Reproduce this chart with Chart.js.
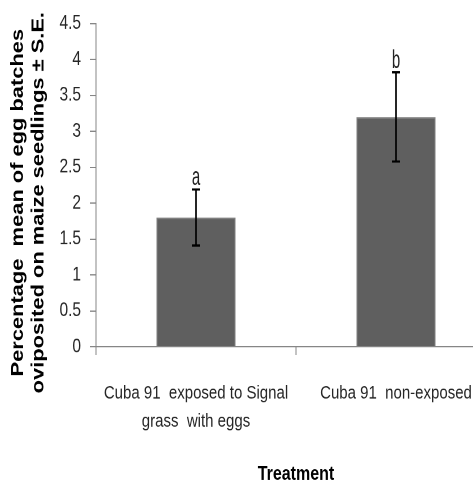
<!DOCTYPE html>
<html>
<head>
<meta charset="utf-8">
<script src="https://cdn.jsdelivr.net/npm/chart.js@4.4.1/dist/chart.umd.min.js"></script>
<style>
html, body { margin: 0; padding: 0; background: #fff; overflow: hidden; }
#frame { position: relative; width: 473px; height: 486px; overflow: hidden; background: #fff; }
/* the figure is drawn at 500x389 and stretched vertically to fill the frame */
#c { position: absolute; left: 0; top: 0; transform: scaleY(1.2494); transform-origin: 0 0; }
</style>
</head>
<body>
<div id="frame"><canvas id="c" width="500" height="389"></canvas></div>
<script>
const categories = [['Cuba 91  exposed to Signal', 'grass  with eggs'], ['Cuba 91  non-exposed']];
const meanValues = [1.8, 3.2];
const seValues = [0.39, 0.62];
const groupLetters = ['a', 'b'];
const yTickLabels = ['0', '0.5', '1', '1.5', '2', '2.5', '3', '3.5', '4', '4.5'];
const yTitleLines = ['Percentage  mean of egg batches', 'oviposited on maize seedlings \u00b1 S.E.'];
const xTitle = 'Treatment';

const FONT = '"Liberation Sans", Arial, sans-serif';
const AXIS_GREY = '#868686';

// standard-error whiskers and significance letters above each bar
const errorBars = {
  id: 'errorBars',
  afterDatasetsDraw(chart) {
    const { ctx, scales: { y } } = chart;
    const meta = chart.getDatasetMeta(0);
    ctx.save();
    ctx.strokeStyle = '#000';
    ctx.lineWidth = 1.7;
    meta.data.forEach((bar, i) => {
      const x = bar.x;
      const top = y.getPixelForValue(meanValues[i] + seValues[i]);
      const bot = y.getPixelForValue(meanValues[i] - seValues[i]);
      ctx.beginPath();
      ctx.moveTo(x, top); ctx.lineTo(x, bot);
      ctx.moveTo(x - 4, top); ctx.lineTo(x + 4, top);
      ctx.moveTo(x - 4, bot); ctx.lineTo(x + 4, bot);
      ctx.stroke();
      // condensed letter set just above the upper whisker
      ctx.save();
      ctx.translate(x, top - 3.5);
      ctx.scale(0.75, 1);
      ctx.fillStyle = '#222';
      ctx.font = '20px "Liberation Sans Narrow", ' + FONT;
      ctx.textAlign = 'center';
      ctx.textBaseline = 'alphabetic';
      ctx.fillText(groupLetters[i], 0, 0);
      ctx.restore();
    });
    ctx.restore();
  }
};

// two-line rotated title for the value axis
const yAxisTitle = {
  id: 'yAxisTitle',
  afterDraw(chart) {
    const { ctx, chartArea } = chart;
    const cy = (chartArea.top + chartArea.bottom) / 2 + 14;
    const baselines = [23, 43.5];
    ctx.save();
    ctx.fillStyle = '#000';
    ctx.font = 'bold 17.5px ' + FONT;
    ctx.textAlign = 'center';
    ctx.textBaseline = 'alphabetic';
    yTitleLines.forEach((line, i) => {
      ctx.save();
      ctx.translate(baselines[i], cy);
      ctx.rotate(-Math.PI / 2);
      ctx.fillText(line, 0, 0);
      ctx.restore();
    });
    ctx.restore();
  }
};

new Chart(document.getElementById('c'), {
  type: 'bar',
  data: {
    labels: categories,
    datasets: [{
      data: meanValues,
      backgroundColor: '#5f5f5f',
      borderColor: '#7f7f7f',
      borderWidth: 1,
      barPercentage: 0.395,
      categoryPercentage: 1
    }]
  },
  options: {
    responsive: false,
    devicePixelRatio: 2,
    animation: false,
    layout: { padding: { left: 0, right: 4, top: 18.8, bottom: 0 } },
    plugins: { legend: { display: false }, tooltip: { enabled: false } },
    scales: {
      x: {
        offset: true,
        grid: { display: true, offset: true, drawOnChartArea: false, drawTicks: true, tickLength: 6.4, color: AXIS_GREY, lineWidth: 1 },
        border: { display: true, color: AXIS_GREY, width: 1 },
        ticks: { color: '#262626', font: { family: FONT, size: 15, lineHeight: 1.49 }, padding: 19.6, maxRotation: 0, autoSkip: false },
        title: { display: true, text: xTitle, color: '#000', font: { family: FONT, size: 16, weight: 'bold', lineHeight: 1.2 }, padding: { top: 0, bottom: 0 } },
        afterFit(scale) { scale.height = 389 - 277.6; }
      },
      y: {
        min: 0,
        max: 4.5,
        ticks: {
          stepSize: 0.5,
          color: '#262626',
          font: { family: FONT, size: 15.5 },
          padding: 9,
          callback: (v, i) => yTickLabels[i]
        },
        grid: { display: true, drawOnChartArea: false, drawTicks: true, tickLength: 6, color: AXIS_GREY, lineWidth: 1 },
        border: { display: true, color: AXIS_GREY, width: 1 },
        afterFit(scale) { scale.width = 96; }
      }
    }
  },
  plugins: [errorBars, yAxisTitle]
});
</script>
</body>
</html>
